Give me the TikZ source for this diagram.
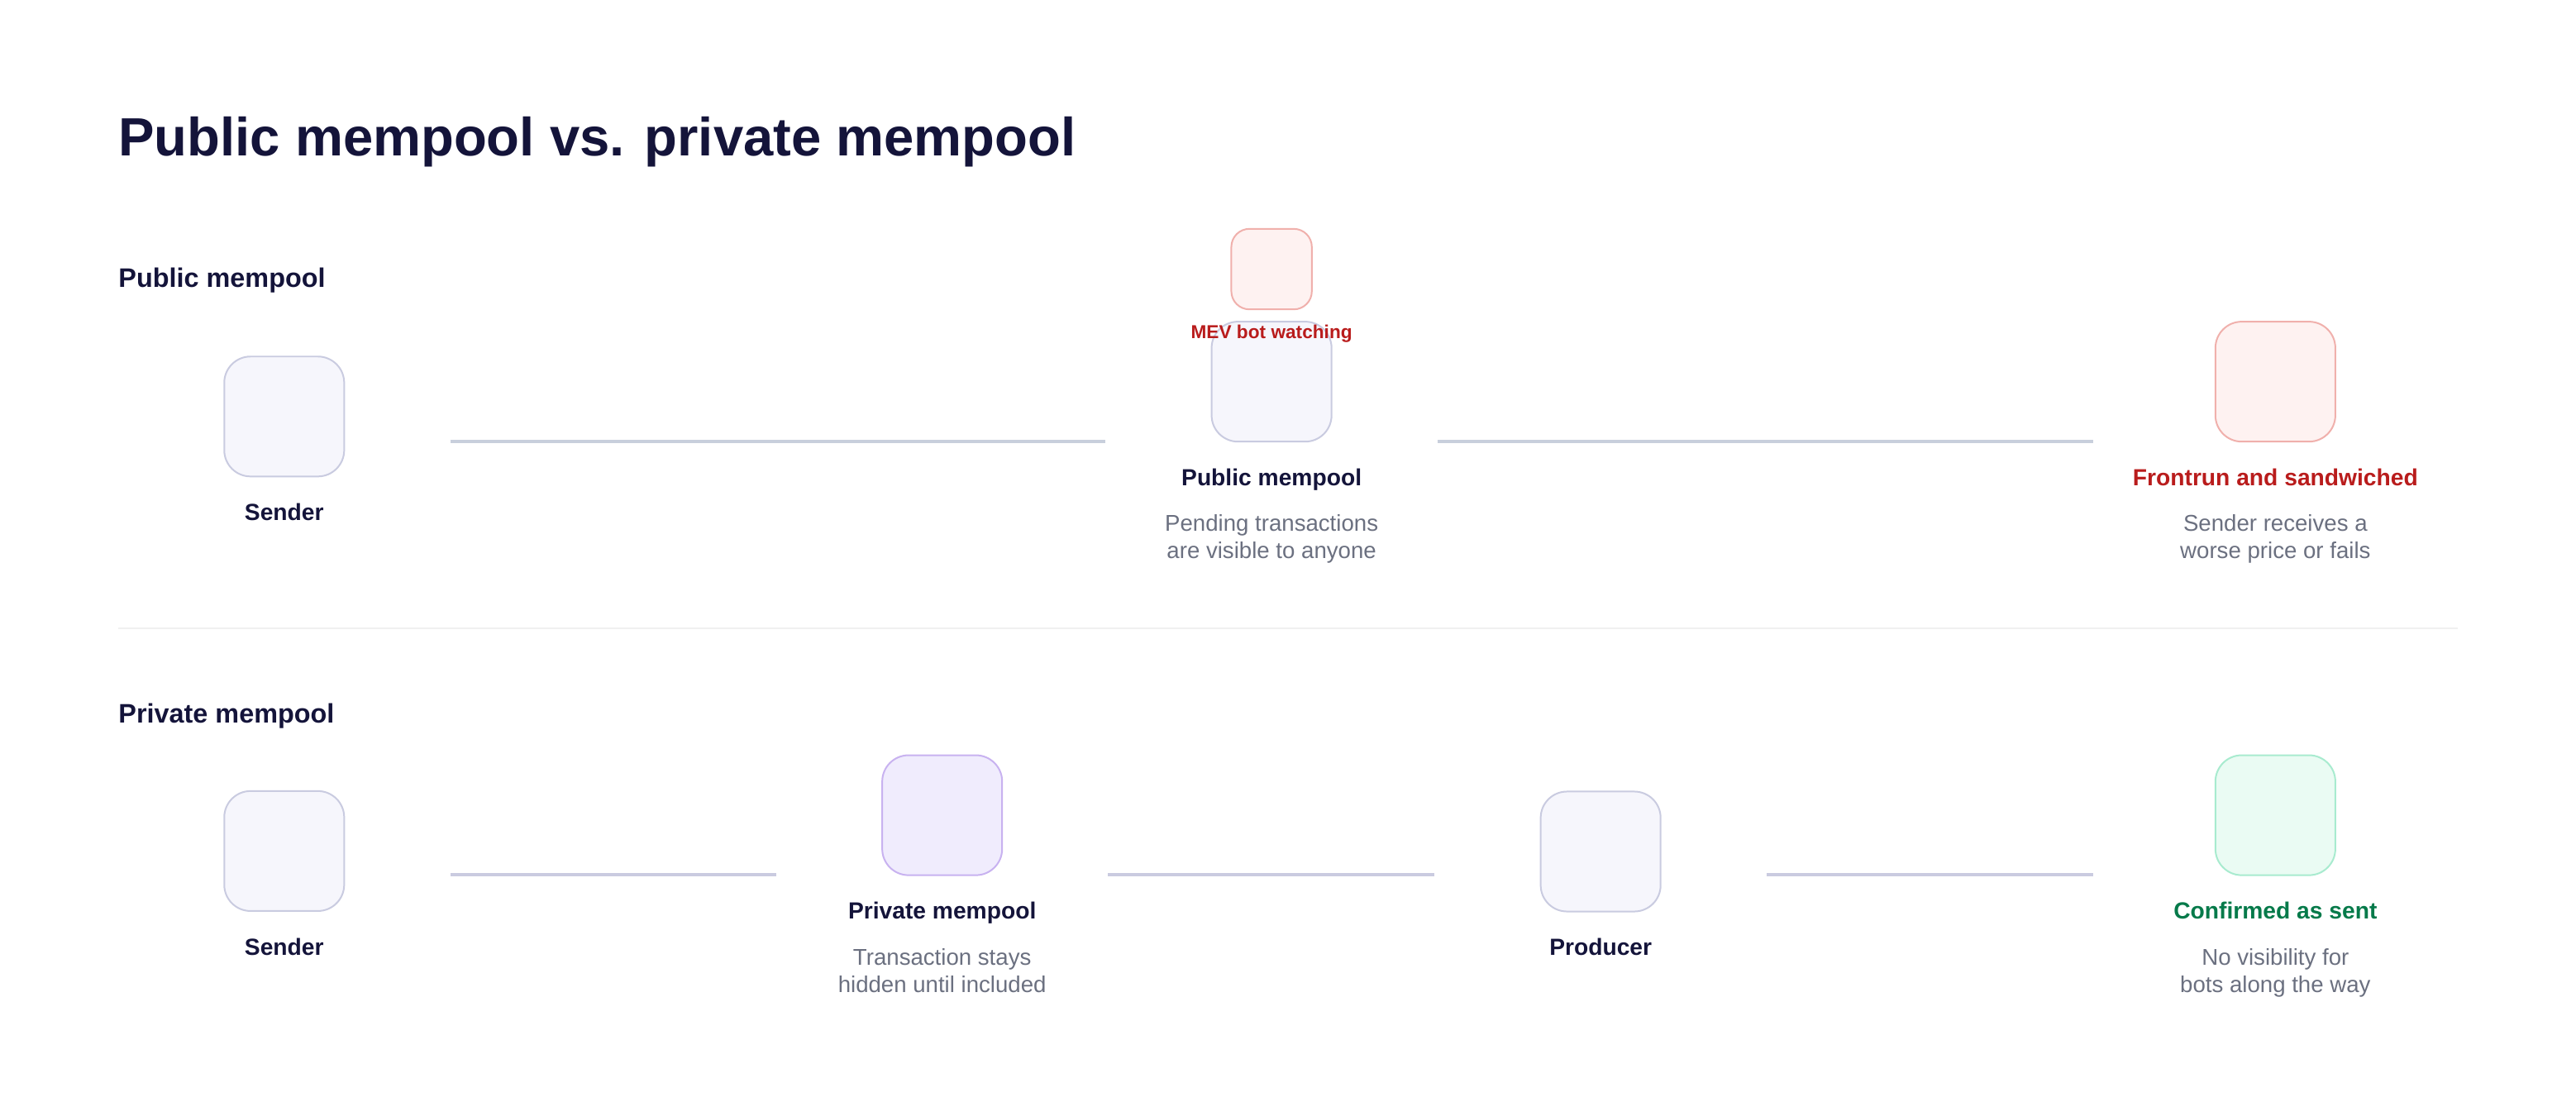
\documentclass[tikz,border=0pt]{standalone}
\usepackage{fontspec}
\setmainfont{Liberation Sans}
\definecolor{ink}{HTML}{14143A}
\definecolor{muted}{HTML}{6B7080}
\definecolor{redtxt}{HTML}{B91C1C}
\definecolor{greentxt}{HTML}{067A4A}
\definecolor{nfill}{HTML}{F6F6FC}
\definecolor{nborder}{HTML}{C9CBE0}
\definecolor{rfill}{HTML}{FEF2F1}
\definecolor{rborder}{HTML}{F0B0AC}
\definecolor{pfill}{HTML}{F0ECFD}
\definecolor{pborder}{HTML}{C8B2F0}
\definecolor{gfill}{HTML}{EAFBF3}
\definecolor{gborder}{HTML}{A8EBCF}
\definecolor{connA}{HTML}{C8CFDC}
\definecolor{connB}{HTML}{CACBE0}
\definecolor{sepcol}{HTML}{F0F0F0}
\begin{document}
\begin{tikzpicture}[x=1pt,y=-1pt,
  box/.style={draw, rounded corners=16pt, minimum width=73pt, minimum height=73pt, line width=1pt, inner sep=0pt},
  nbox/.style={box, draw=nborder, fill=nfill},
  rbox/.style={box, draw=rborder, fill=rfill},
  pbox/.style={box, draw=pborder, fill=pfill},
  gbox/.style={box, draw=gborder, fill=gfill},
  lbl/.style={anchor=base, inner sep=0pt, text=ink, font=\bfseries\fontsize{14.2}{17}\selectfont},
  desc/.style={anchor=base, inner sep=0pt, align=center, text=muted, font=\fontsize{13.9}{16.5}\selectfont},
  heading/.style={anchor=base west, inner sep=0pt, text=ink, font=\bfseries\fontsize{16.3}{19}\selectfont},
  connpub/.style={draw=connA, line width=2pt, shorten <=64pt, shorten >=64pt},
  connpriv/.style={draw=connB, line width=2pt, shorten <=64pt, shorten >=64pt},
  lastgap/.style={shorten >=74pt},
]
\path[use as bounding box, fill=white] (0,0) rectangle (1568,670.3);

\node[anchor=base west, inner sep=0pt, text=ink, font=\bfseries\fontsize{32.8}{38}\selectfont] (title) at (72,94.7) {Public mempool vs. private mempool};

% ---------- public row ----------
\node[heading] (hpub) at (72,175) {Public mempool};
\coordinate (r1) at (0,268.7);

\node[nbox] (s1) at (173,253.5) {};
\node[lbl] (s1l) at (173,317) {Sender};

\node[nbox] (pm) at (774,232.3) {};
\node[rbox, minimum width=49pt, minimum height=49pt, rounded corners=11pt] (mev) at (774,163.8) {};
\node[anchor=base, inner sep=0pt, text=redtxt, font=\bfseries\fontsize{11.4}{13}\selectfont] (mevl) at (774,206.3) {MEV bot watching};
\node[lbl] (pml) at (774,295.8) {Public mempool};
\node[desc] (pmd) at (774,339.7) {Pending transactions\\are visible to anyone};

\node[rbox] (fr) at (1385,232.3) {};
\node[lbl, text=redtxt] (frl) at (1385,295.8) {Frontrun and sandwiched};
\node[desc] (frd) at (1385,339.7) {Sender receives a\\worse price or fails};

\draw[connpub] (s1.east |- r1) -- (pm.west |- r1);
\draw[connpub, lastgap] (pm.east |- r1) -- (fr.west |- r1);

% separator
\draw[sepcol, line width=1pt] (72,382.5) -- (1496,382.5);

% ---------- private row ----------
\node[heading] (hpriv) at (72,440) {Private mempool};
\coordinate (r2) at (0,532.5);

\node[nbox] (s2) at (173,518) {};
\node[lbl] (s2l) at (173,581.3) {Sender};

\node[pbox] (pv) at (573.5,496.2) {};
\node[lbl] (pvl) at (573.5,559.5) {Private mempool};
\node[desc] (pvd) at (573.5,604) {Transaction stays\\hidden until included};

\node[nbox] (pr) at (974.3,518.3) {};
\node[lbl] (prl) at (974.3,581.3) {Producer};

\node[gbox] (cf) at (1385,496.2) {};
\node[lbl, text=greentxt] (cfl) at (1385,559.5) {Confirmed as sent};
\node[desc] (cfd) at (1385,604) {No visibility for\\bots along the way};

\draw[connpriv] (s2.east |- r2) -- (pv.west |- r2);
\draw[connpriv] (pv.east |- r2) -- (pr.west |- r2);
\draw[connpriv, lastgap] (pr.east |- r2) -- (cf.west |- r2);
\end{tikzpicture}
\end{document}
